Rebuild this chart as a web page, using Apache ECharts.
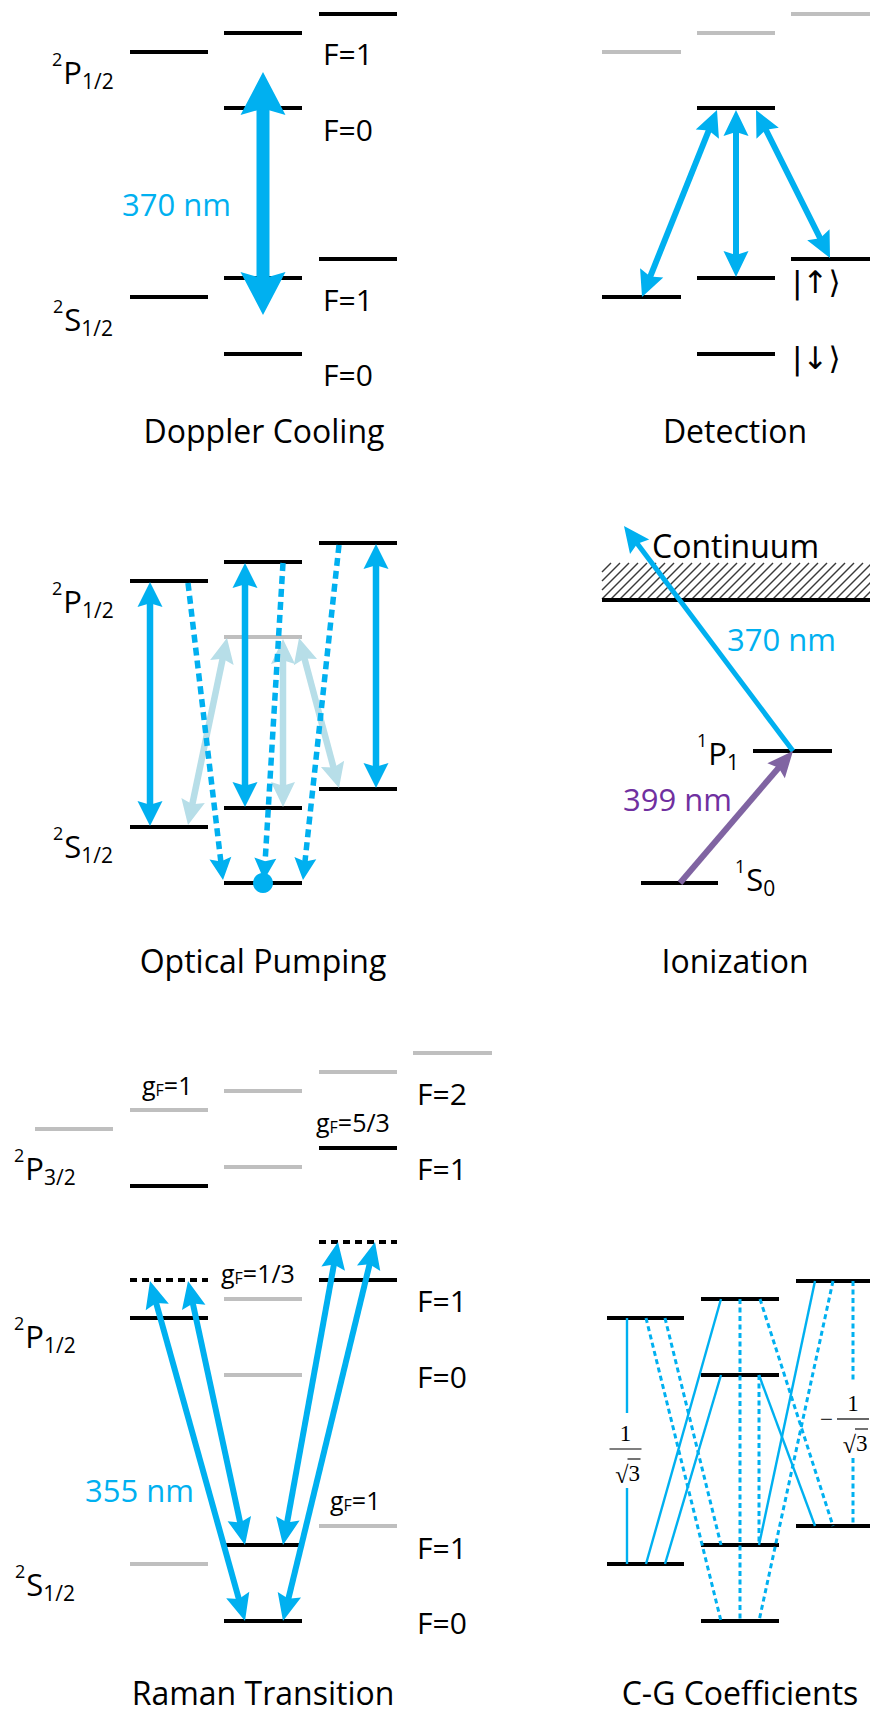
<!DOCTYPE html>
<html>
<head>
<meta charset="utf-8">
<script src="https://cdn.jsdelivr.net/npm/echarts@6/dist/echarts.min.js"></script>
<style>
html,body{margin:0;padding:0;background:#ffffff;}
#chart{width:870px;height:1715px;}
</style>
</head>
<body>
<div id="chart"></div>
<script>
// ================= DATA =================
// Energy levels: [xStart, xEnd, energy(y)]
const dopplerLevels = [[130,208,52],[224,302,33],[224,302,108],[319,397,14],[130,208,297],[224,302,278],[224,302,354],[319,397,259]];
const detectionLevels = [[697,775,108],[602,681,297],[697,775,278],[791,875,259],[697,775,354]];
const detectionGhostLevels = [[602,681,52],[697,775,33],[791,875,14]];
const pumpingLevels = [[130,208,581],[130,208,827],[224,302,562],[224,302,808],[224,302,883],[319,397,543],[319,397,789]];
const pumpingGhostLevels = [[224,302,637]];
const ionizationLevels = [[641,718,883],[753,832,751],[602,875,600]];
const ramanLevels = [[130,208,1186],[130,208,1318],[319,397,1148],[319,397,1280],[224,302,1545],[224,302,1621]];
const ramanGhostLevels = [[35,113,1129],[130,208,1110],[224,302,1091],[224,302,1167],[224,302,1299],[224,302,1375],[319,397,1072],[413,492,1053],[130,208,1564],[319,397,1526]];
const ramanVirtualLevels = [[130,208,1280],[319,397,1242]];
const cgLevels = [[607,684,1318],[607,684,1564],[701,779,1299],[701,779,1375],[701,779,1545],[701,779,1621],[796,875,1281],[796,875,1526]];
const continuumBand = [[602,563,875,600]];

// Transitions: [x1, y1, x2, y2, heads]  (heads: 1 = at end, 2 = both ends)
const dopplerArrows = [[263,72,263,315,2]];
const detectionArrows = [[717,110,642,297,2],[736,110,736,277,2],[756,110,830,258,2]];
const pumpingArrows = [[150,582,150,826,2],[245,563,245,807,2],[376,544,376,788,2]];
const pumpingWeakArrows = [[227,638,188,825,2],[283,639,283,807,2],[299,638,339,788,2]];
const pumpingDecays = [[188,583,223,880,1],[283,563,264,880,1],[339,545,303,880,1]];
const pumpedPopulation = [[263,883]];
const ionization370 = [[793,751,624,526,1]];
const ionization399 = [[680,883,793,751,1]];
const ramanBeams = [[150,1281,245,1621,2],[188,1281,245,1545,2],[338,1242,283,1545,2],[375,1242,283,1621,2]];
const cgSolid = [[627,1318,627,1413],[627,1488,627,1564],[646,1564,721,1299],[665,1564,721,1375],[759,1545,815,1281],[759,1375,815,1526]];
const cgDotted = [[646,1318,721,1621],[665,1318,721,1545],[740,1299,740,1621],[759,1375,759,1545],[760,1299,833,1526],[833,1281,759,1621],[853,1281,853,1382],[853,1458,853,1526]];

// Text: [text, x, baseline]
const stateLabels = [['F=1',323,62],['F=0',323,138],['F=1',323,308],['F=0',323,383],
  ['F=2',417,1102],['F=1',417,1177],['F=1',417,1309],['F=0',417,1385],['F=1',417,1556],['F=0',417,1631]];
const titleLabels = [['Doppler Cooling',264,440],['Detection',735,440],['Optical Pumping',263,970],['Ionization',735,970],['Raman Transition',263,1702],['C-G Coefficients',740,1702]];
const wavelengthLabels = [['370 nm',122,213],['370 nm',727,648],['355 nm',85,1499]];
const wavelength399Labels = [['399 nm',623,808]];
const continuumLabels = [['Continuum',652,555]];
// term symbols: [superscript, letter, subscript, x, baseline]
const termLabels = [['2','P','1/2',52,81],['2','S','1/2',53,328],['2','P','1/2',52,610],['2','S','1/2',53,855],
  ['2','P','3/2',14,1177],['2','P','1/2',14,1345],['2','S','1/2',15,1593],['1','P','1',697,762],['1','S','0',735,888]];
// Landé factors: [value text, x, baseline]
const gFactorLabels = [['=1',142,1092],['=5/3',316,1129],['=1/3',221,1280],['=1',330,1507]];
// kets: [text, x, baseline]
const ketLabels = [['|\u2191\u27E9',792,290],['|\u2193\u27E9',792,366]];
// C-G fractions: [sign, centre x, bar y]
const cgFractions = [['',625.5,1449],['\u2212',853,1419]];

// ================= STYLE =================
const BLUE = '#00B0F0', LIGHT_BLUE = '#B7DEE8', GRAY = '#BFBFBF', BLACK = '#000000';
const PURPLE = '#8064A2', PURPLE_TEXT = '#7030A0';
const SANS = 'Open Sans';
const SERIF = 'Liberation Serif';
const KETFONT = 'DejaVu Sans';

const ctx2d = document.createElement('canvas').getContext('2d');
function measure(str, size, fam) { ctx2d.font = size + 'px "' + fam + '"'; return ctx2d.measureText(str).width; }
function baselineShift(size, fam) {
  ctx2d.font = size + 'px "' + fam + '"';
  ctx2d.textBaseline = 'middle';
  const d = ctx2d.measureText('H').actualBoundingBoxDescent;
  ctx2d.textBaseline = 'alphabetic';
  return (typeof d === 'number' && isFinite(d)) ? d : 0.3 * size;
}
function textAt(str, x, base, size, fam, fill, align) {
  return { type: 'text', x: x, y: base - baselineShift(size, fam),
    style: { text: str, fontSize: size, fontFamily: fam, fill: fill, align: align || 'left', verticalAlign: 'middle' } };
}

// ================= RENDERERS =================
function levelSeries(name, data, style, z) {
  return {
    name: name, type: 'custom', coordinateSystem: 'cartesian2d', z: z || 2, data: data, silent: true,
    renderItem: function (params, api) {
      const a = api.coord([api.value(0), api.value(2)]);
      const b = api.coord([api.value(1), api.value(2)]);
      return { type: 'line', shape: { x1: a[0], y1: a[1], x2: b[0], y2: b[1] },
        style: Object.assign({ stroke: BLACK, lineWidth: 4, lineCap: 'butt' }, style) };
    }
  };
}
function segmentSeries(name, data, style, z) {
  return {
    name: name, type: 'custom', coordinateSystem: 'cartesian2d', z: z || 3, data: data, silent: true,
    renderItem: function (params, api) {
      const a = api.coord([api.value(0), api.value(1)]);
      const b = api.coord([api.value(2), api.value(3)]);
      return { type: 'line', shape: { x1: a[0], y1: a[1], x2: b[0], y2: b[1] }, style: Object.assign({}, style) };
    }
  };
}
function arrowSeries(name, data, o, z) {
  return {
    name: name, type: 'custom', coordinateSystem: 'cartesian2d', z: z || 4, data: data, silent: true,
    renderItem: function (params, api) {
      const p1 = api.coord([api.value(0), api.value(1)]);
      const p2 = api.coord([api.value(2), api.value(3)]);
      const heads = api.value(4);
      const dx = p2[0] - p1[0], dy = p2[1] - p1[1];
      const len = Math.sqrt(dx * dx + dy * dy);
      const ux = dx / len, uy = dy / len;
      const N = o.notch || 0.85;
      function head(tip, sx, sy) {
        const bx = tip[0] - sx * o.L, by = tip[1] - sy * o.L;
        const cx = tip[0] - sx * o.L * N, cy = tip[1] - sy * o.L * N;
        const nx = -sy, ny = sx;
        return { type: 'polygon', shape: { points: [tip, [bx + nx * o.W / 2, by + ny * o.W / 2], [cx, cy], [bx - nx * o.W / 2, by - ny * o.W / 2]] },
          style: { fill: o.color } };
      }
      const children = [];
      let a = p1, b = p2;
      const back = o.L * N * 0.95;
      if (heads >= 2) { a = [p1[0] + ux * back, p1[1] + uy * back]; children.push(head(p1, -ux, -uy)); }
      if (heads >= 1) { b = [p2[0] - ux * back, p2[1] - uy * back]; children.push(head(p2, ux, uy)); }
      children.unshift({ type: 'line', shape: { x1: a[0], y1: a[1], x2: b[0], y2: b[1] },
        style: { stroke: o.color, lineWidth: o.w, lineDash: o.dash || null, lineCap: o.cap || 'butt' } });
      return { type: 'group', children: children };
    }
  };
}
function textSeries(name, rows, build, z) {
  return {
    name: name, type: 'custom', coordinateSystem: 'cartesian2d', z: z || 6, silent: true,
    data: rows.map(function (r) { return [r[r.length - 2], r[r.length - 1]]; }),
    renderItem: function (params, api) {
      const r = rows[params.dataIndex];
      const p = api.coord([api.value(0), api.value(1)]);
      return build(r, p);
    }
  };
}

const series = [
  // continuum hatching
  {
    name: 'continuum', type: 'custom', coordinateSystem: 'cartesian2d', z: 1, data: continuumBand, silent: true,
    renderItem: function (params, api) {
      const tl = api.coord([api.value(0), api.value(1)]);
      const br = api.coord([api.value(2), api.value(3)]);
      const x0 = tl[0], y0 = tl[1], x1 = br[0], y1 = br[1];
      const kids = [];
      const step = 9;
      for (let c = x0 + y0; c <= x1 + y1; c += step) {
        const xa = Math.max(x0, c - y1), xb = Math.min(x1, c - y0);
        if (xb > xa) kids.push({ type: 'line', shape: { x1: xa, y1: c - xa, x2: xb, y2: c - xb },
          style: { stroke: '#3a3a3a', lineWidth: 1.4 } });
      }
      return { type: 'group', children: kids };
    }
  },
  levelSeries('detection ghost', detectionGhostLevels, { stroke: GRAY }),
  levelSeries('pumping ghost', pumpingGhostLevels, { stroke: GRAY }),
  levelSeries('raman ghost', ramanGhostLevels, { stroke: GRAY }),
  levelSeries('doppler', dopplerLevels, {}),
  levelSeries('detection', detectionLevels, {}),
  levelSeries('pumping', pumpingLevels, {}),
  levelSeries('ionization', ionizationLevels, {}),
  levelSeries('raman', ramanLevels, {}),
  levelSeries('raman virtual', ramanVirtualLevels, { lineDash: [7, 5] }),
  levelSeries('cg', cgLevels, {}),
  segmentSeries('cg solid', cgSolid, { stroke: BLUE, lineWidth: 2.4 }),
  segmentSeries('cg dotted', cgDotted, { stroke: BLUE, lineWidth: 3, lineDash: [5, 3.5] }),
  arrowSeries('doppler cooling', dopplerArrows, { color: BLUE, w: 13, W: 45, L: 43 }),
  arrowSeries('detection', detectionArrows, { color: BLUE, w: 6, W: 25, L: 26 }),
  arrowSeries('pumping weak', pumpingWeakArrows, { color: LIGHT_BLUE, w: 6.5, W: 24, L: 25 }),
  arrowSeries('pumping', pumpingArrows, { color: BLUE, w: 6.5, W: 25, L: 25 }),
  arrowSeries('pumping decay', pumpingDecays, { color: BLUE, w: 5.5, W: 22, L: 22, dash: [8, 5], cap: 'butt' }),
  {
    name: 'population', type: 'custom', coordinateSystem: 'cartesian2d', z: 5, data: pumpedPopulation, silent: true,
    renderItem: function (params, api) {
      const p = api.coord([api.value(0), api.value(1)]);
      return { type: 'circle', shape: { cx: p[0], cy: p[1], r: 10 }, style: { fill: BLUE } };
    }
  },
  arrowSeries('ionization 370', ionization370, { color: BLUE, w: 5, W: 24, L: 26 }),
  arrowSeries('ionization 399', ionization399, { color: PURPLE, w: 6, W: 23, L: 26 }),
  arrowSeries('raman beams', ramanBeams, { color: BLUE, w: 6, W: 24, L: 27 }),

  textSeries('state labels', stateLabels, function (r, p) { return textAt(r[0], p[0], p[1], 30, SANS, BLACK); }),
  textSeries('titles', titleLabels, function (r, p) { return textAt(r[0], p[0], p[1], 32, SANS, BLACK, 'center'); }),
  textSeries('wavelengths', wavelengthLabels, function (r, p) { return textAt(r[0], p[0], p[1], 31, SANS, BLUE); }),
  textSeries('wavelength 399', wavelength399Labels, function (r, p) { return textAt(r[0], p[0], p[1], 31, SANS, PURPLE_TEXT); }),
  textSeries('continuum label', continuumLabels, function (r, p) { return textAt(r[0], p[0], p[1], 32, SANS, BLACK); }),
  textSeries('terms', termLabels, function (r, p) {
    const supW = measure(r[0], 18, SANS);
    const mainW = measure(r[1], 31, SANS);
    return { type: 'group', children: [
      textAt(r[0], p[0], p[1] - 17, 18, SANS, BLACK),
      textAt(r[1], p[0] + supW + 1, p[1], 31, SANS, BLACK),
      textAt(r[2], p[0] + supW + 1 + mainW, p[1] + 6, 21, SANS, BLACK)
    ] };
  }),
  textSeries('g factors', gFactorLabels, function (r, p) {
    const gW = measure('g', 25, SANS);
    const fW = measure('F', 16, SANS);
    return { type: 'group', children: [
      textAt('g', p[0], p[1], 25, SANS, BLACK),
      textAt('F', p[0] + gW, p[1] + 3, 16, SANS, BLACK),
      textAt(r[0], p[0] + gW + fW, p[1], 25, SANS, BLACK)
    ] };
  }),
  textSeries('kets', ketLabels, function (r, p) { return textAt(r[0], p[0], p[1], 31, KETFONT, BLACK); }),
  textSeries('cg fractions', cgFractions.map(function (f) { return [f[0], f[1], f[2]]; }), function (r, p) {
    const cx = p[0], yb = p[1];
    const kids = [
      { type: 'line', shape: { x1: cx - 16, y1: yb, x2: cx + 16, y2: yb }, style: { stroke: BLACK, lineWidth: 1.2 } },
      textAt('1', cx, yb - 9, 23, SERIF, BLACK, 'center'),
      textAt('\u221A', cx + 3, yb + 32, 24, SERIF, BLACK, 'right'),
      textAt('3', cx + 3, yb + 31, 23, SERIF, BLACK, 'left'),
      { type: 'line', shape: { x1: cx + 2, y1: yb + 10, x2: cx + 15, y2: yb + 10 }, style: { stroke: BLACK, lineWidth: 1.1 } }
    ];
    if (r[0]) kids.push(textAt(r[0], cx - 20, yb + 7, 23, SERIF, '#333333', 'right'));
    return { type: 'group', children: kids };
  })
];

const chart = echarts.init(document.getElementById('chart'), null, { renderer: 'svg', width: 870, height: 1715 });
chart.setOption({
  animation: false,
  backgroundColor: '#ffffff',
  grid: { left: 0, right: 0, top: 0, bottom: 0 },
  xAxis: { type: 'value', min: 0, max: 870, show: false },
  yAxis: { type: 'value', min: 0, max: 1715, inverse: true, show: false },
  series: series
});
</script>
</body>
</html>
